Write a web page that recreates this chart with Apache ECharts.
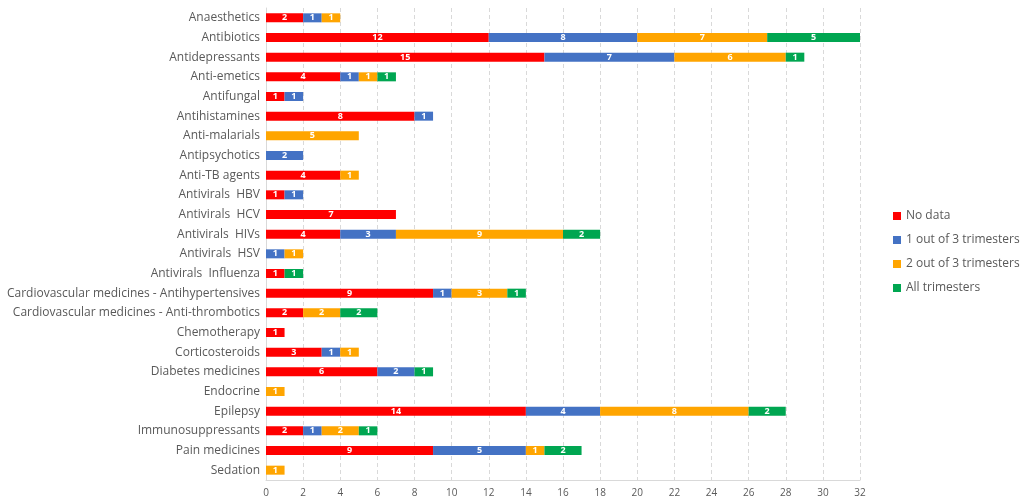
<!DOCTYPE html>
<html><head><meta charset="utf-8">
<script src="https://cdn.jsdelivr.net/npm/echarts@6/dist/echarts.min.js"></script>
<style>html,body{margin:0;padding:0;background:#fff}#c{width:1021px;height:504px}</style>
</head><body><div id="c"></div>
<script>
const categories = ["Anaesthetics","Antibiotics","Antidepressants","Anti-emetics","Antifungal","Antihistamines","Anti-malarials","Antipsychotics","Anti-TB agents","Antivirals  HBV","Antivirals  HCV","Antivirals  HIVs","Antivirals  HSV","Antivirals  Influenza","Cardiovascular medicines - Antihypertensives","Cardiovascular medicines - Anti-thrombotics","Chemotherapy","Corticosteroids","Diabetes medicines","Endocrine","Epilepsy","Immunosuppressants","Pain medicines","Sedation"];
const noData =     [2,12,15,4,1,8,0,0,4,1,7,4,0,1,9,2,1,3,6,0,14,2,9,0];
const oneOf3 =     [1,8,7,1,1,1,0,2,0,1,0,3,1,0,1,0,0,1,2,0,4,1,5,0];
const twoOf3 =     [1,7,6,1,0,0,5,0,1,0,0,9,1,0,3,2,0,1,0,1,8,2,1,1];
const allTri =     [0,5,1,1,0,0,0,0,0,0,0,2,0,1,1,2,0,0,1,0,2,1,2,0];
const seriesNames = ["No data","1 out of 3 trimesters","2 out of 3 trimesters","All trimesters"];
const colors = ["#FF0000","#4472C4","#FFA500","#00A651"];
const xTicks = {min:0,max:32,interval:2};

const chart = echarts.init(document.getElementById('c'));
const dataSets=[noData,oneOf3,twoOf3,allTri];
chart.setOption({
  animation:false,
  textStyle:{fontFamily:"Open Sans, Noto Sans, sans-serif"},
  grid:{left:266,right:161,top:8,bottom:24,containLabel:false},
  legend:{
    orient:'vertical', left:888, top:205, itemWidth:8, itemHeight:8, itemGap:12, icon:'rect',
    textStyle:{color:'#595959',fontSize:12}, data:seriesNames
  },
  xAxis:{type:'value',min:xTicks.min,max:xTicks.max,interval:xTicks.interval,
    axisLine:{show:true,lineStyle:{color:'#d9d9d9'}},axisTick:{show:false},
    axisLabel:{color:'#595959',fontSize:10,margin:8},
    splitLine:{show:true,lineStyle:{color:'#d9d9d9',type:[4,3]}}},
  yAxis:{type:'category',data:categories,inverse:true,
    axisLine:{show:true,lineStyle:{color:'#d9d9d9'}},axisTick:{show:false},
    axisLabel:{color:'#595959',fontSize:12,margin:6}},
  series:dataSets.map((d,i)=>({
    name:seriesNames[i],type:'bar',stack:'t',barWidth:9,
    itemStyle:{color:colors[i]},
    data:d.map(v=>v===0?null:v),
    label:{show:true,position:'inside',color:'#fff',fontSize:9,fontWeight:'bold',
      formatter:p=>p.value?String(p.value):''}
  }))
});
</script></body></html>
